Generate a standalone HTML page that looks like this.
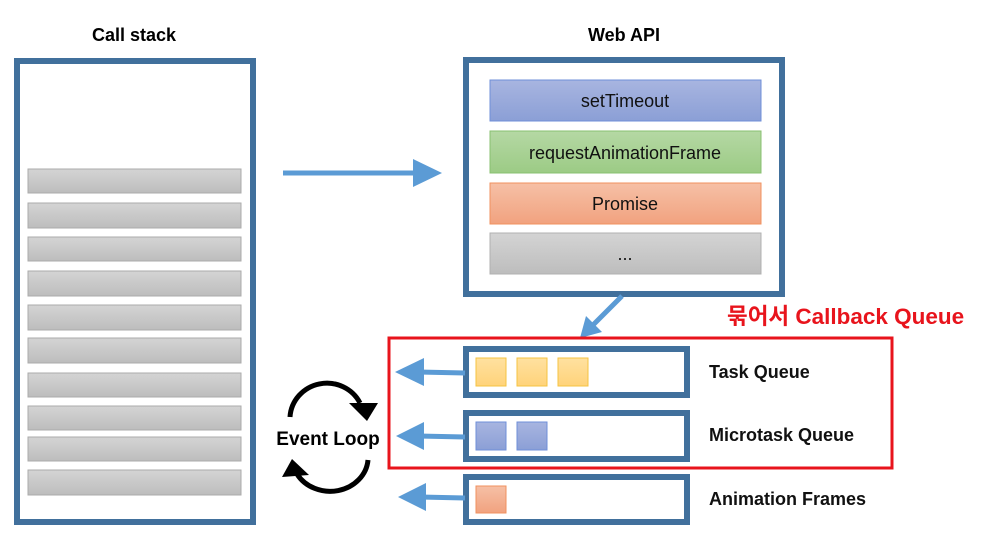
<!DOCTYPE html>
<html><head><meta charset="utf-8"><style>
html,body{margin:0;padding:0;background:#fff;}
svg{display:block;font-family:"Liberation Sans","Noto Sans CJK KR",sans-serif;}
</style></head><body>
<svg width="987" height="540" viewBox="0 0 987 540" xmlns="http://www.w3.org/2000/svg">
<defs>
<linearGradient id="gg" x1="0" y1="0" x2="0" y2="1"><stop offset="0" stop-color="#d4d4d4"/><stop offset="1" stop-color="#bdbdbd"/></linearGradient>
<linearGradient id="gb" x1="0" y1="0" x2="0" y2="1"><stop offset="0" stop-color="#a8b5e0"/><stop offset="1" stop-color="#8b9fd6"/></linearGradient>
<linearGradient id="gn" x1="0" y1="0" x2="0" y2="1"><stop offset="0" stop-color="#b5d8a4"/><stop offset="1" stop-color="#9ccb85"/></linearGradient>
<linearGradient id="go" x1="0" y1="0" x2="0" y2="1"><stop offset="0" stop-color="#f6c0a6"/><stop offset="1" stop-color="#f1a27f"/></linearGradient>
<linearGradient id="gy" x1="0" y1="0" x2="0" y2="1"><stop offset="0" stop-color="#ffe1a0"/><stop offset="1" stop-color="#ffd37a"/></linearGradient>
</defs>
<g font-weight="bold" font-size="18" fill="#000" text-anchor="middle">
<text x="134" y="41">Call stack</text>
<text x="624" y="41">Web API</text>
</g>
<rect x="17" y="61" width="236" height="461" fill="#fff" stroke="#41709c" stroke-width="6"/>
<g fill="url(#gg)" stroke="#ababab" stroke-width="1">
<rect x="28" y="169" width="213" height="24"/><rect x="28" y="203" width="213" height="25"/>
<rect x="28" y="237" width="213" height="24"/><rect x="28" y="271" width="213" height="25"/>
<rect x="28" y="305" width="213" height="25"/><rect x="28" y="338" width="213" height="25"/>
<rect x="28" y="373" width="213" height="24"/><rect x="28" y="406" width="213" height="24"/>
<rect x="28" y="437" width="213" height="24"/><rect x="28" y="470" width="213" height="25"/>
</g>
<line x1="283" y1="173" x2="415" y2="173" stroke="#5b9bd5" stroke-width="5"/>
<polygon points="413,159 442,173 413,187" fill="#5b9bd5"/>
<rect x="466" y="60" width="316" height="234" fill="#fff" stroke="#41709c" stroke-width="6"/>
<rect x="490" y="80" width="271" height="41" fill="url(#gb)" stroke="#6f8fd8"/>
<rect x="490" y="131" width="271" height="42" fill="url(#gn)" stroke="#88c070"/>
<rect x="490" y="183" width="271" height="41" fill="url(#go)" stroke="#f0915f"/>
<rect x="490" y="233" width="271" height="41" fill="url(#gg)" stroke="#b0b0b0"/>
<g font-size="18" fill="#111" text-anchor="middle">
<text x="625" y="107">setTimeout</text>
<text x="625" y="159">requestAnimationFrame</text>
<text x="625" y="210">Promise</text>
<text x="625" y="260">...</text>
</g>
<line x1="622" y1="296" x2="592" y2="326" stroke="#5b9bd5" stroke-width="5"/>
<polygon points="580,338 586,316 602,332" fill="#5b9bd5"/>
<text x="727" y="324" font-size="22.5" font-weight="bold" fill="#e8141c">묶어서 Callback Queue</text>
<rect x="389" y="338" width="503" height="130" fill="none" stroke="#e8141c" stroke-width="3"/>
<g fill="#fff" stroke="#41709c" stroke-width="6">
<rect x="466" y="349" width="221" height="46"/>
<rect x="466" y="413" width="221" height="46"/>
<rect x="466" y="477" width="221" height="45"/>
</g>
<g stroke="#f5c342" stroke-width="1" fill="url(#gy)">
<rect x="476" y="358" width="30" height="28"/><rect x="517" y="358" width="30" height="28"/><rect x="558" y="358" width="30" height="28"/>
</g>
<g stroke="#6f8fd8" fill="url(#gb)">
<rect x="476" y="422" width="30" height="28"/><rect x="517" y="422" width="30" height="28"/>
</g>
<rect x="476" y="486" width="30" height="27" fill="url(#go)" stroke="#f0915f"/>
<g stroke="#5b9bd5" stroke-width="5">
<line x1="418" y1="372" x2="465" y2="373"/>
<line x1="418" y1="436" x2="465" y2="437"/>
<line x1="420" y1="497" x2="465" y2="498"/>
</g>
<g fill="#5b9bd5">
<polygon points="395,372 424,358 424,386"/>
<polygon points="396,436 424,422 424,450"/>
<polygon points="398,497 426,483 426,511"/>
</g>
<g font-size="18" font-weight="bold" fill="#111">
<text x="709" y="378">Task Queue</text>
<text x="709" y="441">Microtask Queue</text>
<text x="709" y="505">Animation Frames</text>
</g>
<g fill="none" stroke="#000" stroke-width="5">
<path d="M290,417 A37,36 0 0 1 360,403"/>
<path d="M368,460 A38,34 0 0 1 297,474"/>
</g>
<g fill="#000">
<polygon points="349,403 378,403 367,421"/>
<polygon points="282,477 309,475 292,459"/>
</g>
<text x="328" y="445" font-size="19" font-weight="bold" text-anchor="middle" fill="#000">Event Loop</text>
</svg>
</body></html>
